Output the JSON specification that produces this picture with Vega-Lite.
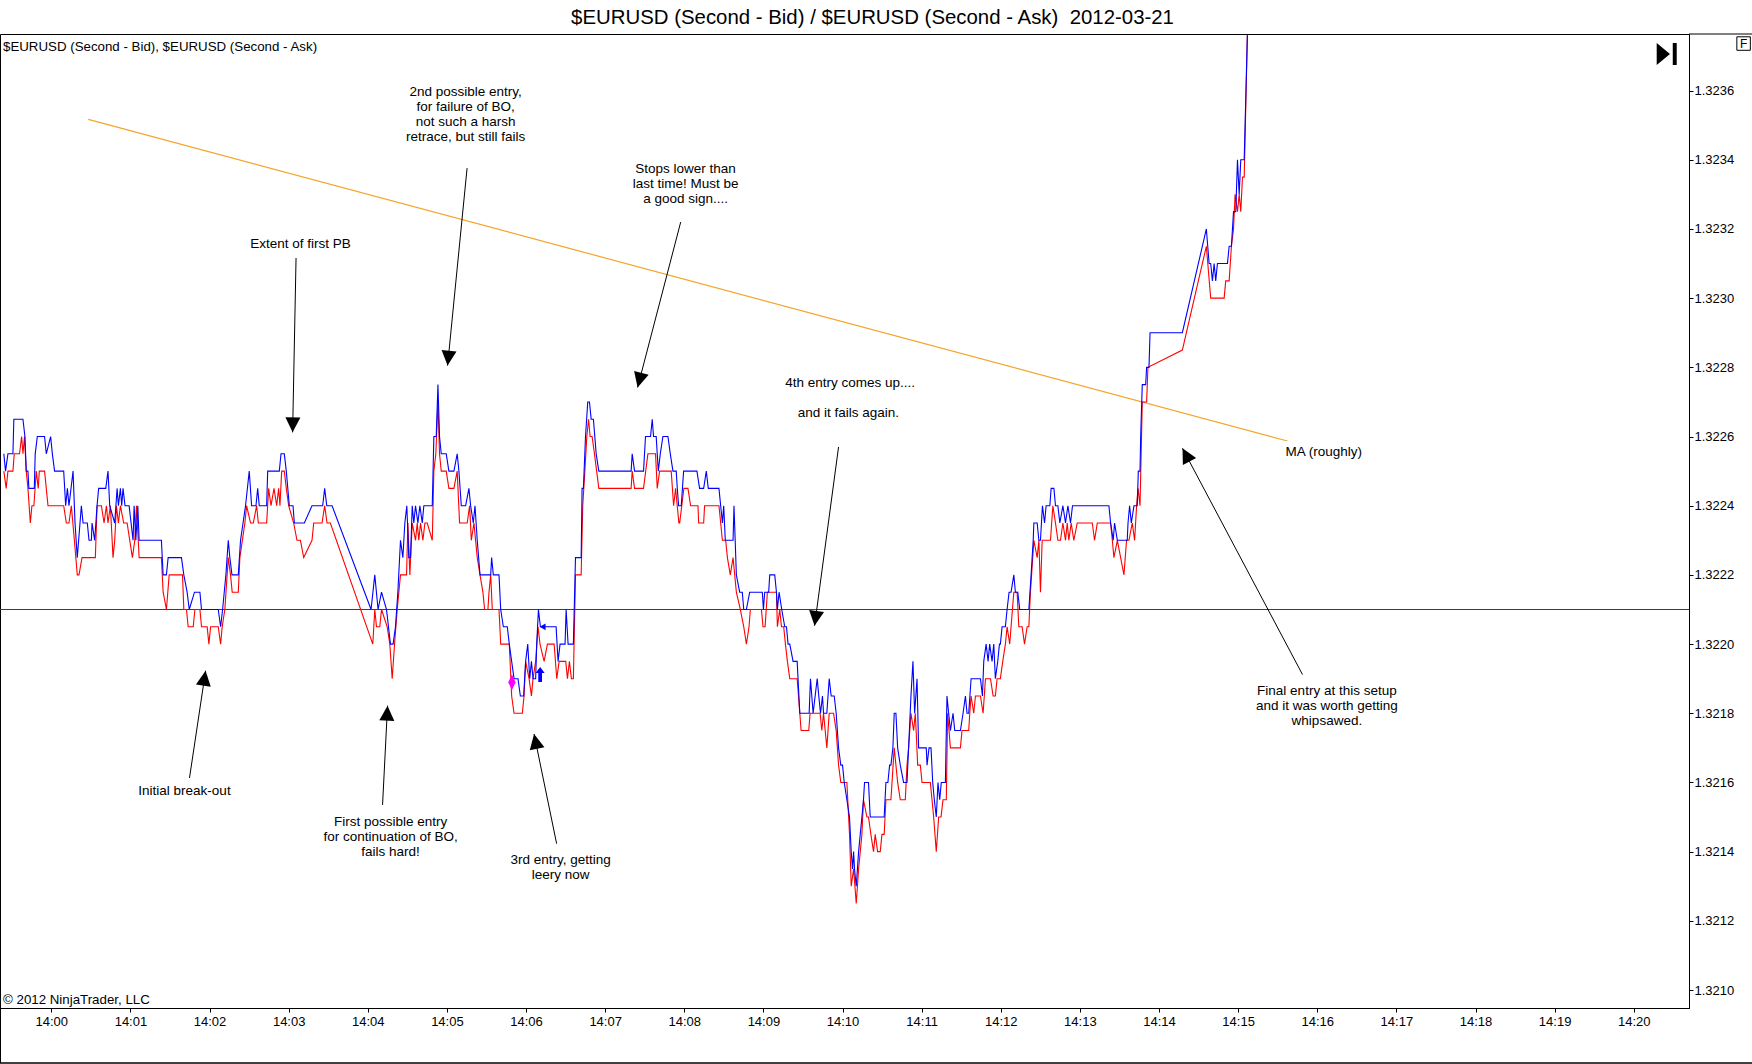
{
  "$schema": "https://vega.github.io/schema/vega-lite/v6.json",
  "width": 1689,
  "height": 974,
  "autosize": {"type": "none"},
  "padding": {"left": 0, "top": 34, "right": 63, "bottom": 56},
  "background": "white",
  "title": {
    "text": "$EURUSD (Second - Bid) / $EURUSD (Second - Ask)\u00a0 2012-03-21",
    "font": "Liberation Sans",
    "fontSize": 20.4,
    "fontWeight": "normal",
    "color": "black",
    "anchor": "middle",
    "frame": "group",
    "baseline": "alphabetic",
    "offset": 10,
    "dx": 28,
    "dy": 21
  },
  "config": {
    "font": "Liberation Sans",
    "view": {"stroke": "black", "strokeWidth": 1},
    "axis": {
      "title": null,
      "labelFont": "Liberation Sans",
      "labelFontSize": 13,
      "labelColor": "black",
      "gridColor": "#d0d0d0",
      "gridWidth": 1,
      "domainColor": "black",
      "tickColor": "black",
      "tickSize": 4,
      "labelOverlap": false,
      "labelFlush": false
    }
  },
  "datasets": {
    "quotes": [
      {"side": "Bid", "t": -36.0, "price": 1.32250}, {"side": "Bid", "t": -34.2, "price": 1.32245}, {"side": "Bid", "t": -32.9, "price": 1.32250},
      {"side": "Bid", "t": -29.1, "price": 1.32250}, {"side": "Bid", "t": -28.1, "price": 1.32255}, {"side": "Bid", "t": -24.1, "price": 1.32255},
      {"side": "Bid", "t": -22.5, "price": 1.32260}, {"side": "Bid", "t": -21.5, "price": 1.32255}, {"side": "Bid", "t": -20.3, "price": 1.32260},
      {"side": "Bid", "t": -19.0, "price": 1.32250}, {"side": "Bid", "t": -17.7, "price": 1.32245}, {"side": "Bid", "t": -15.9, "price": 1.32235},
      {"side": "Bid", "t": -14.7, "price": 1.32240}, {"side": "Bid", "t": -13.2, "price": 1.32240}, {"side": "Bid", "t": -11.4, "price": 1.32250},
      {"side": "Bid", "t": -9.9, "price": 1.32245}, {"side": "Bid", "t": -9.1, "price": 1.32250}, {"side": "Bid", "t": -5.1, "price": 1.32250},
      {"side": "Bid", "t": -2.5, "price": 1.32240}, {"side": "Bid", "t": 9.4, "price": 1.32240}, {"side": "Bid", "t": 11.4, "price": 1.32235},
      {"side": "Bid", "t": 13.4, "price": 1.32235}, {"side": "Bid", "t": 15.2, "price": 1.32240}, {"side": "Bid", "t": 17.5, "price": 1.32230},
      {"side": "Bid", "t": 19.7, "price": 1.32220}, {"side": "Bid", "t": 21.0, "price": 1.32220}, {"side": "Bid", "t": 23.3, "price": 1.32225},
      {"side": "Bid", "t": 33.4, "price": 1.32225}, {"side": "Bid", "t": 34.7, "price": 1.32240}, {"side": "Bid", "t": 38.0, "price": 1.32240},
      {"side": "Bid", "t": 40.0, "price": 1.32235}, {"side": "Bid", "t": 41.8, "price": 1.32240}, {"side": "Bid", "t": 43.0, "price": 1.32235},
      {"side": "Bid", "t": 44.8, "price": 1.32240}, {"side": "Bid", "t": 46.8, "price": 1.32225}, {"side": "Bid", "t": 48.1, "price": 1.32230},
      {"side": "Bid", "t": 49.4, "price": 1.32240}, {"side": "Bid", "t": 50.9, "price": 1.32235}, {"side": "Bid", "t": 52.4, "price": 1.32240},
      {"side": "Bid", "t": 54.9, "price": 1.32235}, {"side": "Bid", "t": 57.5, "price": 1.32235}, {"side": "Bid", "t": 59.5, "price": 1.32230},
      {"side": "Bid", "t": 61.5, "price": 1.32225}, {"side": "Bid", "t": 63.3, "price": 1.32230}, {"side": "Bid", "t": 64.6, "price": 1.32240},
      {"side": "Bid", "t": 66.6, "price": 1.32225}, {"side": "Bid", "t": 83.5, "price": 1.32225}, {"side": "Bid", "t": 84.8, "price": 1.32215},
      {"side": "Bid", "t": 87.3, "price": 1.32210}, {"side": "Bid", "t": 89.4, "price": 1.32220}, {"side": "Bid", "t": 99.5, "price": 1.32220},
      {"side": "Bid", "t": 100.5, "price": 1.32210}, {"side": "Bid", "t": 102.5, "price": 1.32210}, {"side": "Bid", "t": 103.8, "price": 1.32205},
      {"side": "Bid", "t": 107.6, "price": 1.32205}, {"side": "Bid", "t": 108.9, "price": 1.32210}, {"side": "Bid", "t": 112.7, "price": 1.32210},
      {"side": "Bid", "t": 113.9, "price": 1.32205}, {"side": "Bid", "t": 118.2, "price": 1.32205}, {"side": "Bid", "t": 119.5, "price": 1.32200},
      {"side": "Bid", "t": 120.8, "price": 1.32205}, {"side": "Bid", "t": 126.6, "price": 1.32205}, {"side": "Bid", "t": 128.4, "price": 1.32200},
      {"side": "Bid", "t": 129.6, "price": 1.32205}, {"side": "Bid", "t": 131.6, "price": 1.32210}, {"side": "Bid", "t": 134.2, "price": 1.32225},
      {"side": "Bid", "t": 135.9, "price": 1.32220}, {"side": "Bid", "t": 137.2, "price": 1.32215}, {"side": "Bid", "t": 141.8, "price": 1.32215},
      {"side": "Bid", "t": 143.0, "price": 1.32225}, {"side": "Bid", "t": 146.8, "price": 1.32235}, {"side": "Bid", "t": 148.1, "price": 1.32240},
      {"side": "Bid", "t": 151.1, "price": 1.32235}, {"side": "Bid", "t": 153.2, "price": 1.32235}, {"side": "Bid", "t": 155.7, "price": 1.32240},
      {"side": "Bid", "t": 157.0, "price": 1.32235}, {"side": "Bid", "t": 163.3, "price": 1.32235}, {"side": "Bid", "t": 164.8, "price": 1.32245},
      {"side": "Bid", "t": 166.6, "price": 1.32240}, {"side": "Bid", "t": 168.9, "price": 1.32245}, {"side": "Bid", "t": 170.9, "price": 1.32240},
      {"side": "Bid", "t": 172.4, "price": 1.32245}, {"side": "Bid", "t": 173.4, "price": 1.32240}, {"side": "Bid", "t": 174.7, "price": 1.32250},
      {"side": "Bid", "t": 176.7, "price": 1.32250}, {"side": "Bid", "t": 178.2, "price": 1.32245}, {"side": "Bid", "t": 180.0, "price": 1.32240},
      {"side": "Bid", "t": 183.8, "price": 1.32235}, {"side": "Bid", "t": 186.3, "price": 1.32230}, {"side": "Bid", "t": 188.9, "price": 1.32230},
      {"side": "Bid", "t": 191.4, "price": 1.32225}, {"side": "Bid", "t": 197.7, "price": 1.32230}, {"side": "Bid", "t": 199.0, "price": 1.32235},
      {"side": "Bid", "t": 205.3, "price": 1.32235}, {"side": "Bid", "t": 207.3, "price": 1.32240}, {"side": "Bid", "t": 209.1, "price": 1.32235},
      {"side": "Bid", "t": 211.6, "price": 1.32235}, {"side": "Bid", "t": 243.8, "price": 1.32200}, {"side": "Bid", "t": 245.3, "price": 1.32210},
      {"side": "Bid", "t": 246.6, "price": 1.32205}, {"side": "Bid", "t": 249.1, "price": 1.32205}, {"side": "Bid", "t": 250.4, "price": 1.32210},
      {"side": "Bid", "t": 254.7, "price": 1.32205}, {"side": "Bid", "t": 256.7, "price": 1.32200}, {"side": "Bid", "t": 258.5, "price": 1.32190},
      {"side": "Bid", "t": 260.3, "price": 1.32200}, {"side": "Bid", "t": 262.3, "price": 1.32210}, {"side": "Bid", "t": 264.8, "price": 1.32220},
      {"side": "Bid", "t": 269.4, "price": 1.32220}, {"side": "Bid", "t": 270.4, "price": 1.32235}, {"side": "Bid", "t": 271.9, "price": 1.32220},
      {"side": "Bid", "t": 273.7, "price": 1.32235}, {"side": "Bid", "t": 276.2, "price": 1.32230}, {"side": "Bid", "t": 277.5, "price": 1.32235},
      {"side": "Bid", "t": 278.7, "price": 1.32230}, {"side": "Bid", "t": 280.0, "price": 1.32235}, {"side": "Bid", "t": 281.8, "price": 1.32230},
      {"side": "Bid", "t": 283.3, "price": 1.32235}, {"side": "Bid", "t": 285.1, "price": 1.32235}, {"side": "Bid", "t": 288.9, "price": 1.32230},
      {"side": "Bid", "t": 290.1, "price": 1.32250}, {"side": "Bid", "t": 291.6, "price": 1.32255}, {"side": "Bid", "t": 293.2, "price": 1.32270},
      {"side": "Bid", "t": 294.4, "price": 1.32255}, {"side": "Bid", "t": 295.7, "price": 1.32250}, {"side": "Bid", "t": 299.5, "price": 1.32250},
      {"side": "Bid", "t": 301.5, "price": 1.32245}, {"side": "Bid", "t": 305.3, "price": 1.32245}, {"side": "Bid", "t": 307.8, "price": 1.32250},
      {"side": "Bid", "t": 309.6, "price": 1.32235}, {"side": "Bid", "t": 315.4, "price": 1.32235}, {"side": "Bid", "t": 317.2, "price": 1.32240},
      {"side": "Bid", "t": 318.5, "price": 1.32230}, {"side": "Bid", "t": 320.5, "price": 1.32235}, {"side": "Bid", "t": 323.0, "price": 1.32225},
      {"side": "Bid", "t": 325.1, "price": 1.32220}, {"side": "Bid", "t": 327.3, "price": 1.32215}, {"side": "Bid", "t": 328.6, "price": 1.32210},
      {"side": "Bid", "t": 331.1, "price": 1.32210}, {"side": "Bid", "t": 331.9, "price": 1.32215}, {"side": "Bid", "t": 333.2, "price": 1.32220},
      {"side": "Bid", "t": 334.4, "price": 1.32210}, {"side": "Bid", "t": 339.5, "price": 1.32210}, {"side": "Bid", "t": 340.8, "price": 1.32200},
      {"side": "Bid", "t": 347.3, "price": 1.32200}, {"side": "Bid", "t": 349.1, "price": 1.32185}, {"side": "Bid", "t": 350.9, "price": 1.32180},
      {"side": "Bid", "t": 357.2, "price": 1.32180}, {"side": "Bid", "t": 358.5, "price": 1.32185}, {"side": "Bid", "t": 359.7, "price": 1.32195},
      {"side": "Bid", "t": 362.3, "price": 1.32190}, {"side": "Bid", "t": 364.1, "price": 1.32185}, {"side": "Bid", "t": 365.3, "price": 1.32190},
      {"side": "Bid", "t": 367.3, "price": 1.32195}, {"side": "Bid", "t": 369.1, "price": 1.32205}, {"side": "Bid", "t": 370.6, "price": 1.32200},
      {"side": "Bid", "t": 373.7, "price": 1.32195}, {"side": "Bid", "t": 376.2, "price": 1.32200}, {"side": "Bid", "t": 381.3, "price": 1.32200},
      {"side": "Bid", "t": 383.3, "price": 1.32190}, {"side": "Bid", "t": 385.1, "price": 1.32195}, {"side": "Bid", "t": 390.1, "price": 1.32195},
      {"side": "Bid", "t": 391.4, "price": 1.32190}, {"side": "Bid", "t": 392.9, "price": 1.32195}, {"side": "Bid", "t": 394.4, "price": 1.32190},
      {"side": "Bid", "t": 395.9, "price": 1.32190}, {"side": "Bid", "t": 397.5, "price": 1.32220}, {"side": "Bid", "t": 401.8, "price": 1.32220},
      {"side": "Bid", "t": 403.0, "price": 1.32240}, {"side": "Bid", "t": 404.6, "price": 1.32250}, {"side": "Bid", "t": 406.1, "price": 1.32260},
      {"side": "Bid", "t": 407.4, "price": 1.32265}, {"side": "Bid", "t": 408.6, "price": 1.32260}, {"side": "Bid", "t": 410.1, "price": 1.32260},
      {"side": "Bid", "t": 411.9, "price": 1.32255}, {"side": "Bid", "t": 415.2, "price": 1.32245}, {"side": "Bid", "t": 439.7, "price": 1.32245},
      {"side": "Bid", "t": 440.5, "price": 1.32250}, {"side": "Bid", "t": 442.3, "price": 1.32245}, {"side": "Bid", "t": 449.1, "price": 1.32245},
      {"side": "Bid", "t": 452.4, "price": 1.32255}, {"side": "Bid", "t": 458.2, "price": 1.32255}, {"side": "Bid", "t": 459.5, "price": 1.32245},
      {"side": "Bid", "t": 461.3, "price": 1.32250}, {"side": "Bid", "t": 470.1, "price": 1.32250}, {"side": "Bid", "t": 471.9, "price": 1.32240},
      {"side": "Bid", "t": 473.4, "price": 1.32245}, {"side": "Bid", "t": 475.9, "price": 1.32235}, {"side": "Bid", "t": 476.5, "price": 1.32235},
      {"side": "Bid", "t": 479.7, "price": 1.32245}, {"side": "Bid", "t": 482.8, "price": 1.32245}, {"side": "Bid", "t": 484.8, "price": 1.32240},
      {"side": "Bid", "t": 490.4, "price": 1.32240}, {"side": "Bid", "t": 490.9, "price": 1.32235}, {"side": "Bid", "t": 494.7, "price": 1.32235},
      {"side": "Bid", "t": 495.4, "price": 1.32240}, {"side": "Bid", "t": 506.3, "price": 1.32240}, {"side": "Bid", "t": 508.9, "price": 1.32230},
      {"side": "Bid", "t": 511.4, "price": 1.32230}, {"side": "Bid", "t": 512.7, "price": 1.32225}, {"side": "Bid", "t": 514.9, "price": 1.32220},
      {"side": "Bid", "t": 517.0, "price": 1.32225}, {"side": "Bid", "t": 519.5, "price": 1.32215}, {"side": "Bid", "t": 522.5, "price": 1.32210},
      {"side": "Bid", "t": 525.1, "price": 1.32205}, {"side": "Bid", "t": 527.1, "price": 1.32200}, {"side": "Bid", "t": 529.1, "price": 1.32205},
      {"side": "Bid", "t": 530.1, "price": 1.32210}, {"side": "Bid", "t": 538.5, "price": 1.32210}, {"side": "Bid", "t": 539.7, "price": 1.32205},
      {"side": "Bid", "t": 541.3, "price": 1.32205}, {"side": "Bid", "t": 543.0, "price": 1.32215}, {"side": "Bid", "t": 549.9, "price": 1.32215},
      {"side": "Bid", "t": 550.6, "price": 1.32205}, {"side": "Bid", "t": 552.4, "price": 1.32210}, {"side": "Bid", "t": 553.7, "price": 1.32205},
      {"side": "Bid", "t": 555.4, "price": 1.32205}, {"side": "Bid", "t": 556.7, "price": 1.32200}, {"side": "Bid", "t": 558.2, "price": 1.32195},
      {"side": "Bid", "t": 560.0, "price": 1.32190}, {"side": "Bid", "t": 565.6, "price": 1.32190}, {"side": "Bid", "t": 567.6, "price": 1.32180},
      {"side": "Bid", "t": 568.6, "price": 1.32175}, {"side": "Bid", "t": 574.4, "price": 1.32175}, {"side": "Bid", "t": 575.4, "price": 1.32180},
      {"side": "Bid", "t": 583.0, "price": 1.32180}, {"side": "Bid", "t": 584.3, "price": 1.32175}, {"side": "Bid", "t": 585.6, "price": 1.32180},
      {"side": "Bid", "t": 588.1, "price": 1.32170}, {"side": "Bid", "t": 589.9, "price": 1.32180}, {"side": "Bid", "t": 593.2, "price": 1.32180},
      {"side": "Bid", "t": 595.2, "price": 1.32175}, {"side": "Bid", "t": 597.0, "price": 1.32165}, {"side": "Bid", "t": 598.7, "price": 1.32160},
      {"side": "Bid", "t": 603.3, "price": 1.32160}, {"side": "Bid", "t": 605.3, "price": 1.32145}, {"side": "Bid", "t": 606.6, "price": 1.32130},
      {"side": "Bid", "t": 608.4, "price": 1.32135}, {"side": "Bid", "t": 610.4, "price": 1.32125}, {"side": "Bid", "t": 612.2, "price": 1.32135},
      {"side": "Bid", "t": 614.7, "price": 1.32145}, {"side": "Bid", "t": 615.9, "price": 1.32155}, {"side": "Bid", "t": 618.5, "price": 1.32150},
      {"side": "Bid", "t": 619.7, "price": 1.32150}, {"side": "Bid", "t": 621.5, "price": 1.32145}, {"side": "Bid", "t": 623.5, "price": 1.32140},
      {"side": "Bid", "t": 624.8, "price": 1.32145}, {"side": "Bid", "t": 626.6, "price": 1.32140}, {"side": "Bid", "t": 628.6, "price": 1.32140},
      {"side": "Bid", "t": 629.9, "price": 1.32145}, {"side": "Bid", "t": 631.6, "price": 1.32145}, {"side": "Bid", "t": 632.9, "price": 1.32155},
      {"side": "Bid", "t": 636.7, "price": 1.32155}, {"side": "Bid", "t": 639.2, "price": 1.32170}, {"side": "Bid", "t": 641.8, "price": 1.32160},
      {"side": "Bid", "t": 643.8, "price": 1.32155}, {"side": "Bid", "t": 647.6, "price": 1.32155}, {"side": "Bid", "t": 648.9, "price": 1.32165},
      {"side": "Bid", "t": 650.1, "price": 1.32170}, {"side": "Bid", "t": 651.9, "price": 1.32180}, {"side": "Bid", "t": 653.9, "price": 1.32175},
      {"side": "Bid", "t": 655.2, "price": 1.32180}, {"side": "Bid", "t": 657.0, "price": 1.32165}, {"side": "Bid", "t": 659.0, "price": 1.32165},
      {"side": "Bid", "t": 660.3, "price": 1.32160}, {"side": "Bid", "t": 666.6, "price": 1.32160}, {"side": "Bid", "t": 669.1, "price": 1.32150},
      {"side": "Bid", "t": 671.1, "price": 1.32140}, {"side": "Bid", "t": 672.9, "price": 1.32150}, {"side": "Bid", "t": 674.7, "price": 1.32150},
      {"side": "Bid", "t": 676.2, "price": 1.32155}, {"side": "Bid", "t": 678.7, "price": 1.32155}, {"side": "Bid", "t": 679.7, "price": 1.32180},
      {"side": "Bid", "t": 681.8, "price": 1.32170}, {"side": "Bid", "t": 689.4, "price": 1.32170}, {"side": "Bid", "t": 690.6, "price": 1.32175},
      {"side": "Bid", "t": 695.7, "price": 1.32175}, {"side": "Bid", "t": 696.5, "price": 1.32180}, {"side": "Bid", "t": 697.5, "price": 1.32185},
      {"side": "Bid", "t": 699.5, "price": 1.32180}, {"side": "Bid", "t": 700.8, "price": 1.32185}, {"side": "Bid", "t": 704.6, "price": 1.32185},
      {"side": "Bid", "t": 706.6, "price": 1.32180}, {"side": "Bid", "t": 708.4, "price": 1.32190}, {"side": "Bid", "t": 712.2, "price": 1.32190},
      {"side": "Bid", "t": 714.2, "price": 1.32185}, {"side": "Bid", "t": 715.9, "price": 1.32185}, {"side": "Bid", "t": 717.2, "price": 1.32190},
      {"side": "Bid", "t": 719.7, "price": 1.32190}, {"side": "Bid", "t": 721.5, "price": 1.32195}, {"side": "Bid", "t": 723.5, "price": 1.32200},
      {"side": "Bid", "t": 724.8, "price": 1.32205}, {"side": "Bid", "t": 726.8, "price": 1.32200}, {"side": "Bid", "t": 727.8, "price": 1.32205},
      {"side": "Bid", "t": 729.9, "price": 1.32215}, {"side": "Bid", "t": 732.4, "price": 1.32215}, {"side": "Bid", "t": 733.7, "price": 1.32205},
      {"side": "Bid", "t": 736.2, "price": 1.32205}, {"side": "Bid", "t": 738.0, "price": 1.32200}, {"side": "Bid", "t": 740.0, "price": 1.32205},
      {"side": "Bid", "t": 741.3, "price": 1.32205}, {"side": "Bid", "t": 742.5, "price": 1.32215}, {"side": "Bid", "t": 745.1, "price": 1.32230},
      {"side": "Bid", "t": 747.6, "price": 1.32225}, {"side": "Bid", "t": 748.9, "price": 1.32230}, {"side": "Bid", "t": 750.1, "price": 1.32215},
      {"side": "Bid", "t": 751.4, "price": 1.32230}, {"side": "Bid", "t": 757.7, "price": 1.32230}, {"side": "Bid", "t": 759.5, "price": 1.32240},
      {"side": "Bid", "t": 761.5, "price": 1.32235}, {"side": "Bid", "t": 763.3, "price": 1.32230}, {"side": "Bid", "t": 765.3, "price": 1.32230},
      {"side": "Bid", "t": 767.1, "price": 1.32235}, {"side": "Bid", "t": 769.1, "price": 1.32230}, {"side": "Bid", "t": 770.4, "price": 1.32235},
      {"side": "Bid", "t": 771.6, "price": 1.32230}, {"side": "Bid", "t": 773.4, "price": 1.32235}, {"side": "Bid", "t": 775.4, "price": 1.32230},
      {"side": "Bid", "t": 778.0, "price": 1.32235}, {"side": "Bid", "t": 789.4, "price": 1.32235}, {"side": "Bid", "t": 791.1, "price": 1.32230},
      {"side": "Bid", "t": 793.2, "price": 1.32235}, {"side": "Bid", "t": 803.3, "price": 1.32235}, {"side": "Bid", "t": 804.6, "price": 1.32230},
      {"side": "Bid", "t": 805.8, "price": 1.32225}, {"side": "Bid", "t": 808.4, "price": 1.32230}, {"side": "Bid", "t": 810.9, "price": 1.32225},
      {"side": "Bid", "t": 813.4, "price": 1.32220}, {"side": "Bid", "t": 815.4, "price": 1.32230}, {"side": "Bid", "t": 817.2, "price": 1.32230},
      {"side": "Bid", "t": 819.7, "price": 1.32235}, {"side": "Bid", "t": 821.5, "price": 1.32230}, {"side": "Bid", "t": 823.0, "price": 1.32240},
      {"side": "Bid", "t": 824.1, "price": 1.32245}, {"side": "Bid", "t": 825.6, "price": 1.32240}, {"side": "Bid", "t": 827.3, "price": 1.32270},
      {"side": "Bid", "t": 830.6, "price": 1.32270}, {"side": "Bid", "t": 831.6, "price": 1.32280}, {"side": "Bid", "t": 857.7, "price": 1.32285},
      {"side": "Bid", "t": 875.9, "price": 1.32315}, {"side": "Bid", "t": 879.2, "price": 1.32300}, {"side": "Bid", "t": 889.4, "price": 1.32300},
      {"side": "Bid", "t": 890.6, "price": 1.32305}, {"side": "Bid", "t": 893.2, "price": 1.32305}, {"side": "Bid", "t": 894.9, "price": 1.32315},
      {"side": "Bid", "t": 896.5, "price": 1.32320}, {"side": "Bid", "t": 897.7, "price": 1.32330}, {"side": "Bid", "t": 899.5, "price": 1.32325},
      {"side": "Bid", "t": 900.8, "price": 1.32330}, {"side": "Bid", "t": 902.0, "price": 1.32325}, {"side": "Bid", "t": 903.3, "price": 1.32335},
      {"side": "Bid", "t": 904.6, "price": 1.32335}, {"side": "Bid", "t": 907.0, "price": 1.32376},

      {"side": "Ask", "t": -36.0, "price": 1.32255}, {"side": "Ask", "t": -34.7, "price": 1.32250}, {"side": "Ask", "t": -32.9, "price": 1.32255},
      {"side": "Ask", "t": -29.1, "price": 1.32255}, {"side": "Ask", "t": -28.4, "price": 1.32265}, {"side": "Ask", "t": -21.5, "price": 1.32265},
      {"side": "Ask", "t": -20.0, "price": 1.32260}, {"side": "Ask", "t": -19.0, "price": 1.32250}, {"side": "Ask", "t": -17.7, "price": 1.32250},
      {"side": "Ask", "t": -17.0, "price": 1.32245}, {"side": "Ask", "t": -12.9, "price": 1.32245}, {"side": "Ask", "t": -12.2, "price": 1.32255},
      {"side": "Ask", "t": -10.6, "price": 1.32260}, {"side": "Ask", "t": -5.1, "price": 1.32260}, {"side": "Ask", "t": -3.8, "price": 1.32255},
      {"side": "Ask", "t": -0.5, "price": 1.32260}, {"side": "Ask", "t": 0.8, "price": 1.32255}, {"side": "Ask", "t": 2.5, "price": 1.32250},
      {"side": "Ask", "t": 9.4, "price": 1.32250}, {"side": "Ask", "t": 10.9, "price": 1.32240}, {"side": "Ask", "t": 12.2, "price": 1.32245},
      {"side": "Ask", "t": 13.4, "price": 1.32240}, {"side": "Ask", "t": 16.5, "price": 1.32250}, {"side": "Ask", "t": 18.0, "price": 1.32235},
      {"side": "Ask", "t": 19.7, "price": 1.32225}, {"side": "Ask", "t": 22.8, "price": 1.32240}, {"side": "Ask", "t": 24.1, "price": 1.32235},
      {"side": "Ask", "t": 27.3, "price": 1.32235}, {"side": "Ask", "t": 28.6, "price": 1.32230}, {"side": "Ask", "t": 30.4, "price": 1.32230},
      {"side": "Ask", "t": 30.9, "price": 1.32235}, {"side": "Ask", "t": 32.9, "price": 1.32230}, {"side": "Ask", "t": 34.7, "price": 1.32240},
      {"side": "Ask", "t": 35.9, "price": 1.32245}, {"side": "Ask", "t": 41.3, "price": 1.32245}, {"side": "Ask", "t": 43.0, "price": 1.32250},
      {"side": "Ask", "t": 44.3, "price": 1.32240}, {"side": "Ask", "t": 48.1, "price": 1.32235}, {"side": "Ask", "t": 49.9, "price": 1.32245},
      {"side": "Ask", "t": 50.9, "price": 1.32240}, {"side": "Ask", "t": 52.4, "price": 1.32245}, {"side": "Ask", "t": 53.4, "price": 1.32240},
      {"side": "Ask", "t": 54.4, "price": 1.32245}, {"side": "Ask", "t": 55.9, "price": 1.32240}, {"side": "Ask", "t": 59.0, "price": 1.32240},
      {"side": "Ask", "t": 62.0, "price": 1.32230}, {"side": "Ask", "t": 62.8, "price": 1.32240}, {"side": "Ask", "t": 64.1, "price": 1.32230},
      {"side": "Ask", "t": 65.6, "price": 1.32240}, {"side": "Ask", "t": 66.6, "price": 1.32230}, {"side": "Ask", "t": 83.5, "price": 1.32230},
      {"side": "Ask", "t": 84.8, "price": 1.32220}, {"side": "Ask", "t": 87.3, "price": 1.32220}, {"side": "Ask", "t": 88.6, "price": 1.32225},
      {"side": "Ask", "t": 98.7, "price": 1.32225}, {"side": "Ask", "t": 100.5, "price": 1.32220}, {"side": "Ask", "t": 103.0, "price": 1.32215},
      {"side": "Ask", "t": 104.6, "price": 1.32210}, {"side": "Ask", "t": 108.6, "price": 1.32215}, {"side": "Ask", "t": 112.7, "price": 1.32215},
      {"side": "Ask", "t": 113.9, "price": 1.32210}, {"side": "Ask", "t": 126.6, "price": 1.32210}, {"side": "Ask", "t": 128.4, "price": 1.32205},
      {"side": "Ask", "t": 129.9, "price": 1.32210}, {"side": "Ask", "t": 132.4, "price": 1.32220}, {"side": "Ask", "t": 134.2, "price": 1.32230},
      {"side": "Ask", "t": 135.4, "price": 1.32225}, {"side": "Ask", "t": 137.0, "price": 1.32220}, {"side": "Ask", "t": 141.8, "price": 1.32220},
      {"side": "Ask", "t": 143.5, "price": 1.32230}, {"side": "Ask", "t": 147.3, "price": 1.32240}, {"side": "Ask", "t": 150.1, "price": 1.32250},
      {"side": "Ask", "t": 151.9, "price": 1.32240}, {"side": "Ask", "t": 155.2, "price": 1.32240}, {"side": "Ask", "t": 156.5, "price": 1.32245},
      {"side": "Ask", "t": 157.7, "price": 1.32240}, {"side": "Ask", "t": 163.3, "price": 1.32240}, {"side": "Ask", "t": 164.1, "price": 1.32250},
      {"side": "Ask", "t": 172.9, "price": 1.32250}, {"side": "Ask", "t": 174.2, "price": 1.32255}, {"side": "Ask", "t": 176.7, "price": 1.32255},
      {"side": "Ask", "t": 178.2, "price": 1.32250}, {"side": "Ask", "t": 180.5, "price": 1.32240}, {"side": "Ask", "t": 183.3, "price": 1.32240},
      {"side": "Ask", "t": 184.3, "price": 1.32235}, {"side": "Ask", "t": 191.9, "price": 1.32235}, {"side": "Ask", "t": 197.7, "price": 1.32240},
      {"side": "Ask", "t": 205.8, "price": 1.32240}, {"side": "Ask", "t": 207.3, "price": 1.32245}, {"side": "Ask", "t": 208.9, "price": 1.32240},
      {"side": "Ask", "t": 212.9, "price": 1.32240}, {"side": "Ask", "t": 242.5, "price": 1.32210}, {"side": "Ask", "t": 245.3, "price": 1.32220},
      {"side": "Ask", "t": 247.8, "price": 1.32210}, {"side": "Ask", "t": 250.4, "price": 1.32215}, {"side": "Ask", "t": 254.2, "price": 1.32210},
      {"side": "Ask", "t": 257.2, "price": 1.32200}, {"side": "Ask", "t": 259.2, "price": 1.32200}, {"side": "Ask", "t": 261.0, "price": 1.32205},
      {"side": "Ask", "t": 262.8, "price": 1.32215}, {"side": "Ask", "t": 264.8, "price": 1.32230}, {"side": "Ask", "t": 266.6, "price": 1.32225},
      {"side": "Ask", "t": 268.1, "price": 1.32235}, {"side": "Ask", "t": 269.6, "price": 1.32240}, {"side": "Ask", "t": 271.1, "price": 1.32225},
      {"side": "Ask", "t": 272.4, "price": 1.32225}, {"side": "Ask", "t": 273.7, "price": 1.32240}, {"side": "Ask", "t": 274.9, "price": 1.32235},
      {"side": "Ask", "t": 276.2, "price": 1.32240}, {"side": "Ask", "t": 278.0, "price": 1.32235}, {"side": "Ask", "t": 279.5, "price": 1.32240},
      {"side": "Ask", "t": 281.3, "price": 1.32235}, {"side": "Ask", "t": 282.5, "price": 1.32240}, {"side": "Ask", "t": 288.9, "price": 1.32240},
      {"side": "Ask", "t": 290.1, "price": 1.32260}, {"side": "Ask", "t": 291.9, "price": 1.32260}, {"side": "Ask", "t": 293.2, "price": 1.32275},
      {"side": "Ask", "t": 294.4, "price": 1.32260}, {"side": "Ask", "t": 295.7, "price": 1.32255}, {"side": "Ask", "t": 299.5, "price": 1.32255},
      {"side": "Ask", "t": 301.5, "price": 1.32250}, {"side": "Ask", "t": 305.3, "price": 1.32250}, {"side": "Ask", "t": 307.8, "price": 1.32255},
      {"side": "Ask", "t": 309.1, "price": 1.32250}, {"side": "Ask", "t": 310.9, "price": 1.32240}, {"side": "Ask", "t": 314.2, "price": 1.32240},
      {"side": "Ask", "t": 316.7, "price": 1.32245}, {"side": "Ask", "t": 318.0, "price": 1.32240}, {"side": "Ask", "t": 320.0, "price": 1.32235},
      {"side": "Ask", "t": 321.3, "price": 1.32240}, {"side": "Ask", "t": 323.0, "price": 1.32230}, {"side": "Ask", "t": 325.1, "price": 1.32220},
      {"side": "Ask", "t": 333.2, "price": 1.32220}, {"side": "Ask", "t": 333.9, "price": 1.32225}, {"side": "Ask", "t": 335.2, "price": 1.32220},
      {"side": "Ask", "t": 339.5, "price": 1.32220}, {"side": "Ask", "t": 340.8, "price": 1.32210}, {"side": "Ask", "t": 342.8, "price": 1.32205},
      {"side": "Ask", "t": 345.8, "price": 1.32205}, {"side": "Ask", "t": 347.3, "price": 1.32200}, {"side": "Ask", "t": 349.1, "price": 1.32195},
      {"side": "Ask", "t": 350.9, "price": 1.32190}, {"side": "Ask", "t": 353.9, "price": 1.32190}, {"side": "Ask", "t": 355.7, "price": 1.32185},
      {"side": "Ask", "t": 358.2, "price": 1.32185}, {"side": "Ask", "t": 359.7, "price": 1.32195}, {"side": "Ask", "t": 361.3, "price": 1.32200},
      {"side": "Ask", "t": 362.8, "price": 1.32190}, {"side": "Ask", "t": 364.1, "price": 1.32195}, {"side": "Ask", "t": 365.3, "price": 1.32190},
      {"side": "Ask", "t": 367.3, "price": 1.32190}, {"side": "Ask", "t": 368.1, "price": 1.32200}, {"side": "Ask", "t": 369.4, "price": 1.32210},
      {"side": "Ask", "t": 370.9, "price": 1.32205}, {"side": "Ask", "t": 382.8, "price": 1.32205}, {"side": "Ask", "t": 384.3, "price": 1.32195},
      {"side": "Ask", "t": 385.8, "price": 1.32200}, {"side": "Ask", "t": 389.6, "price": 1.32200}, {"side": "Ask", "t": 390.4, "price": 1.32210},
      {"side": "Ask", "t": 391.9, "price": 1.32200}, {"side": "Ask", "t": 395.9, "price": 1.32200}, {"side": "Ask", "t": 397.5, "price": 1.32225},
      {"side": "Ask", "t": 401.8, "price": 1.32225}, {"side": "Ask", "t": 402.5, "price": 1.32245}, {"side": "Ask", "t": 403.5, "price": 1.32245},
      {"side": "Ask", "t": 405.1, "price": 1.32260}, {"side": "Ask", "t": 406.8, "price": 1.32270}, {"side": "Ask", "t": 408.1, "price": 1.32270},
      {"side": "Ask", "t": 409.4, "price": 1.32265}, {"side": "Ask", "t": 411.1, "price": 1.32265}, {"side": "Ask", "t": 413.2, "price": 1.32255},
      {"side": "Ask", "t": 415.2, "price": 1.32250}, {"side": "Ask", "t": 439.7, "price": 1.32250}, {"side": "Ask", "t": 440.5, "price": 1.32255},
      {"side": "Ask", "t": 442.3, "price": 1.32250}, {"side": "Ask", "t": 449.1, "price": 1.32250}, {"side": "Ask", "t": 450.6, "price": 1.32260},
      {"side": "Ask", "t": 454.4, "price": 1.32260}, {"side": "Ask", "t": 455.7, "price": 1.32265}, {"side": "Ask", "t": 456.7, "price": 1.32260},
      {"side": "Ask", "t": 458.7, "price": 1.32260}, {"side": "Ask", "t": 460.3, "price": 1.32250}, {"side": "Ask", "t": 461.8, "price": 1.32255},
      {"side": "Ask", "t": 463.8, "price": 1.32260}, {"side": "Ask", "t": 467.6, "price": 1.32260}, {"side": "Ask", "t": 469.4, "price": 1.32255},
      {"side": "Ask", "t": 471.4, "price": 1.32250}, {"side": "Ask", "t": 473.9, "price": 1.32250}, {"side": "Ask", "t": 474.7, "price": 1.32245},
      {"side": "Ask", "t": 475.7, "price": 1.32240}, {"side": "Ask", "t": 477.7, "price": 1.32240}, {"side": "Ask", "t": 479.5, "price": 1.32250},
      {"side": "Ask", "t": 489.6, "price": 1.32250}, {"side": "Ask", "t": 491.6, "price": 1.32245}, {"side": "Ask", "t": 494.7, "price": 1.32245},
      {"side": "Ask", "t": 496.7, "price": 1.32250}, {"side": "Ask", "t": 498.2, "price": 1.32245}, {"side": "Ask", "t": 506.3, "price": 1.32245},
      {"side": "Ask", "t": 507.6, "price": 1.32240}, {"side": "Ask", "t": 508.9, "price": 1.32235}, {"side": "Ask", "t": 509.9, "price": 1.32240},
      {"side": "Ask", "t": 511.1, "price": 1.32230}, {"side": "Ask", "t": 517.0, "price": 1.32230}, {"side": "Ask", "t": 517.7, "price": 1.32240},
      {"side": "Ask", "t": 519.5, "price": 1.32220}, {"side": "Ask", "t": 522.0, "price": 1.32215}, {"side": "Ask", "t": 524.0, "price": 1.32215},
      {"side": "Ask", "t": 525.1, "price": 1.32210}, {"side": "Ask", "t": 527.1, "price": 1.32210}, {"side": "Ask", "t": 529.6, "price": 1.32215},
      {"side": "Ask", "t": 539.2, "price": 1.32215}, {"side": "Ask", "t": 540.0, "price": 1.32210}, {"side": "Ask", "t": 541.0, "price": 1.32215},
      {"side": "Ask", "t": 544.0, "price": 1.32215}, {"side": "Ask", "t": 544.8, "price": 1.32220}, {"side": "Ask", "t": 548.6, "price": 1.32220},
      {"side": "Ask", "t": 549.9, "price": 1.32215}, {"side": "Ask", "t": 550.6, "price": 1.32210}, {"side": "Ask", "t": 551.9, "price": 1.32215},
      {"side": "Ask", "t": 553.9, "price": 1.32210}, {"side": "Ask", "t": 556.2, "price": 1.32205}, {"side": "Ask", "t": 557.5, "price": 1.32205},
      {"side": "Ask", "t": 558.7, "price": 1.32200}, {"side": "Ask", "t": 560.0, "price": 1.32200}, {"side": "Ask", "t": 562.5, "price": 1.32195},
      {"side": "Ask", "t": 565.6, "price": 1.32195}, {"side": "Ask", "t": 567.6, "price": 1.32180}, {"side": "Ask", "t": 574.7, "price": 1.32180},
      {"side": "Ask", "t": 575.7, "price": 1.32190}, {"side": "Ask", "t": 577.7, "price": 1.32180}, {"side": "Ask", "t": 580.8, "price": 1.32190},
      {"side": "Ask", "t": 582.0, "price": 1.32185}, {"side": "Ask", "t": 583.3, "price": 1.32180}, {"side": "Ask", "t": 584.8, "price": 1.32185},
      {"side": "Ask", "t": 585.6, "price": 1.32180}, {"side": "Ask", "t": 588.1, "price": 1.32180}, {"side": "Ask", "t": 589.9, "price": 1.32190},
      {"side": "Ask", "t": 591.4, "price": 1.32185}, {"side": "Ask", "t": 593.7, "price": 1.32185}, {"side": "Ask", "t": 595.2, "price": 1.32180},
      {"side": "Ask", "t": 597.0, "price": 1.32170}, {"side": "Ask", "t": 598.7, "price": 1.32165}, {"side": "Ask", "t": 600.0, "price": 1.32165},
      {"side": "Ask", "t": 601.3, "price": 1.32160}, {"side": "Ask", "t": 603.3, "price": 1.32155}, {"side": "Ask", "t": 605.3, "price": 1.32150},
      {"side": "Ask", "t": 606.6, "price": 1.32140}, {"side": "Ask", "t": 607.6, "price": 1.32135}, {"side": "Ask", "t": 608.4, "price": 1.32140},
      {"side": "Ask", "t": 609.1, "price": 1.32135}, {"side": "Ask", "t": 610.4, "price": 1.32130}, {"side": "Ask", "t": 612.2, "price": 1.32140},
      {"side": "Ask", "t": 614.7, "price": 1.32150}, {"side": "Ask", "t": 615.9, "price": 1.32155}, {"side": "Ask", "t": 616.7, "price": 1.32160},
      {"side": "Ask", "t": 619.7, "price": 1.32160}, {"side": "Ask", "t": 621.0, "price": 1.32150}, {"side": "Ask", "t": 631.6, "price": 1.32150},
      {"side": "Ask", "t": 632.9, "price": 1.32160}, {"side": "Ask", "t": 634.4, "price": 1.32160}, {"side": "Ask", "t": 635.7, "price": 1.32165},
      {"side": "Ask", "t": 636.7, "price": 1.32165}, {"side": "Ask", "t": 638.2, "price": 1.32170}, {"side": "Ask", "t": 639.2, "price": 1.32180},
      {"side": "Ask", "t": 640.5, "price": 1.32180}, {"side": "Ask", "t": 641.8, "price": 1.32170}, {"side": "Ask", "t": 643.8, "price": 1.32165},
      {"side": "Ask", "t": 646.3, "price": 1.32160}, {"side": "Ask", "t": 648.9, "price": 1.32160}, {"side": "Ask", "t": 650.1, "price": 1.32170},
      {"side": "Ask", "t": 651.9, "price": 1.32185}, {"side": "Ask", "t": 653.4, "price": 1.32195}, {"side": "Ask", "t": 654.7, "price": 1.32180},
      {"side": "Ask", "t": 656.5, "price": 1.32190}, {"side": "Ask", "t": 657.7, "price": 1.32170}, {"side": "Ask", "t": 663.5, "price": 1.32170},
      {"side": "Ask", "t": 664.1, "price": 1.32165}, {"side": "Ask", "t": 665.6, "price": 1.32170}, {"side": "Ask", "t": 667.1, "price": 1.32170},
      {"side": "Ask", "t": 668.4, "price": 1.32160}, {"side": "Ask", "t": 669.6, "price": 1.32155}, {"side": "Ask", "t": 671.1, "price": 1.32150},
      {"side": "Ask", "t": 672.4, "price": 1.32160}, {"side": "Ask", "t": 673.7, "price": 1.32155}, {"side": "Ask", "t": 674.9, "price": 1.32160},
      {"side": "Ask", "t": 678.0, "price": 1.32160}, {"side": "Ask", "t": 679.2, "price": 1.32185}, {"side": "Ask", "t": 680.5, "price": 1.32180},
      {"side": "Ask", "t": 681.8, "price": 1.32175}, {"side": "Ask", "t": 683.8, "price": 1.32180}, {"side": "Ask", "t": 685.1, "price": 1.32175},
      {"side": "Ask", "t": 689.4, "price": 1.32175}, {"side": "Ask", "t": 691.4, "price": 1.32180}, {"side": "Ask", "t": 693.2, "price": 1.32185},
      {"side": "Ask", "t": 694.4, "price": 1.32180}, {"side": "Ask", "t": 695.7, "price": 1.32180}, {"side": "Ask", "t": 697.5, "price": 1.32190},
      {"side": "Ask", "t": 704.6, "price": 1.32190}, {"side": "Ask", "t": 706.1, "price": 1.32185}, {"side": "Ask", "t": 707.1, "price": 1.32195},
      {"side": "Ask", "t": 708.9, "price": 1.32200}, {"side": "Ask", "t": 710.4, "price": 1.32195}, {"side": "Ask", "t": 711.6, "price": 1.32200},
      {"side": "Ask", "t": 713.4, "price": 1.32195}, {"side": "Ask", "t": 714.7, "price": 1.32200}, {"side": "Ask", "t": 715.9, "price": 1.32190},
      {"side": "Ask", "t": 717.7, "price": 1.32195}, {"side": "Ask", "t": 719.0, "price": 1.32200}, {"side": "Ask", "t": 719.7, "price": 1.32200},
      {"side": "Ask", "t": 721.0, "price": 1.32205}, {"side": "Ask", "t": 723.5, "price": 1.32205}, {"side": "Ask", "t": 724.8, "price": 1.32210},
      {"side": "Ask", "t": 726.3, "price": 1.32215}, {"side": "Ask", "t": 727.8, "price": 1.32215}, {"side": "Ask", "t": 729.9, "price": 1.32220},
      {"side": "Ask", "t": 731.1, "price": 1.32215}, {"side": "Ask", "t": 732.9, "price": 1.32215}, {"side": "Ask", "t": 734.4, "price": 1.32210},
      {"side": "Ask", "t": 741.3, "price": 1.32210}, {"side": "Ask", "t": 743.0, "price": 1.32220}, {"side": "Ask", "t": 744.6, "price": 1.32230},
      {"side": "Ask", "t": 745.1, "price": 1.32235}, {"side": "Ask", "t": 747.6, "price": 1.32235}, {"side": "Ask", "t": 748.9, "price": 1.32230},
      {"side": "Ask", "t": 750.1, "price": 1.32230}, {"side": "Ask", "t": 751.6, "price": 1.32240}, {"side": "Ask", "t": 753.2, "price": 1.32235},
      {"side": "Ask", "t": 754.4, "price": 1.32240}, {"side": "Ask", "t": 757.2, "price": 1.32240}, {"side": "Ask", "t": 758.2, "price": 1.32245},
      {"side": "Ask", "t": 760.3, "price": 1.32245}, {"side": "Ask", "t": 761.5, "price": 1.32240}, {"side": "Ask", "t": 763.3, "price": 1.32240},
      {"side": "Ask", "t": 764.8, "price": 1.32235}, {"side": "Ask", "t": 767.1, "price": 1.32240}, {"side": "Ask", "t": 769.1, "price": 1.32235},
      {"side": "Ask", "t": 770.9, "price": 1.32240}, {"side": "Ask", "t": 772.9, "price": 1.32235}, {"side": "Ask", "t": 774.4, "price": 1.32240},
      {"side": "Ask", "t": 802.0, "price": 1.32240}, {"side": "Ask", "t": 803.3, "price": 1.32235}, {"side": "Ask", "t": 805.3, "price": 1.32230},
      {"side": "Ask", "t": 806.3, "price": 1.32235}, {"side": "Ask", "t": 808.4, "price": 1.32230}, {"side": "Ask", "t": 815.9, "price": 1.32230},
      {"side": "Ask", "t": 816.5, "price": 1.32235}, {"side": "Ask", "t": 817.7, "price": 1.32240}, {"side": "Ask", "t": 819.0, "price": 1.32235},
      {"side": "Ask", "t": 821.0, "price": 1.32240}, {"side": "Ask", "t": 823.5, "price": 1.32240}, {"side": "Ask", "t": 824.3, "price": 1.32250},
      {"side": "Ask", "t": 825.6, "price": 1.32250}, {"side": "Ask", "t": 826.1, "price": 1.32260}, {"side": "Ask", "t": 827.3, "price": 1.32275},
      {"side": "Ask", "t": 829.9, "price": 1.32275}, {"side": "Ask", "t": 830.6, "price": 1.32280}, {"side": "Ask", "t": 832.4, "price": 1.32280},
      {"side": "Ask", "t": 833.2, "price": 1.32290}, {"side": "Ask", "t": 857.7, "price": 1.32290}, {"side": "Ask", "t": 875.9, "price": 1.32320},
      {"side": "Ask", "t": 878.0, "price": 1.32310}, {"side": "Ask", "t": 879.2, "price": 1.32310}, {"side": "Ask", "t": 880.5, "price": 1.32305},
      {"side": "Ask", "t": 881.8, "price": 1.32310}, {"side": "Ask", "t": 883.0, "price": 1.32305}, {"side": "Ask", "t": 884.3, "price": 1.32310},
      {"side": "Ask", "t": 891.9, "price": 1.32310}, {"side": "Ask", "t": 893.2, "price": 1.32315}, {"side": "Ask", "t": 894.9, "price": 1.32315},
      {"side": "Ask", "t": 896.5, "price": 1.32325}, {"side": "Ask", "t": 898.2, "price": 1.32325}, {"side": "Ask", "t": 899.5, "price": 1.32340},
      {"side": "Ask", "t": 900.8, "price": 1.32330}, {"side": "Ask", "t": 902.0, "price": 1.32340}, {"side": "Ask", "t": 904.6, "price": 1.32340},
      {"side": "Ask", "t": 907.0, "price": 1.32376}
    ],
    "ma": [
      {"t": 28.0, "price": 1.323517},
      {"t": 937.4, "price": 1.322587}
    ],
    "level": [
      {"price": 1.3221}
    ],
    "notes": [
      {"note": ["Extent of first PB"], "t": 189.0, "price": 1.323157},
      {"note": ["2nd possible entry,", "for failure of BO,", "not such a harsh", "retrace, but still fails"], "t": 314.2, "price": 1.323596},
      {"note": ["Stops lower than", "last time! Must be", "a good sign...."], "t": 481.0, "price": 1.323373},
      {"note": ["4th entry comes up...."], "t": 605.7, "price": 1.322755},
      {"note": ["and it fails again."], "t": 604.5, "price": 1.322669},
      {"note": ["MA (roughly)"], "t": 965.0, "price": 1.322554},
      {"note": ["Initial break-out"], "t": 101.0, "price": 1.321574},
      {"note": ["First possible entry", "for continuation of BO,", "fails hard!"], "t": 257.3, "price": 1.321487},
      {"note": ["3rd entry, getting", "leery now"], "t": 386.2, "price": 1.321376},
      {"note": ["Final entry at this setup", "and it was worth getting", "whipsawed."], "t": 967.3, "price": 1.321863}
    ],
    "arrows": [
      {"t": 185.6, "price": 1.323116, "t2": 183.0, "price2": 1.322612},
      {"t": 315.3, "price": 1.323376, "t2": 300.5, "price2": 1.322805},
      {"t": 477.3, "price": 1.32322, "t2": 444.6, "price2": 1.322742},
      {"t": 597.0, "price": 1.32257, "t2": 578.8, "price2": 1.322053},
      {"t": 104.8, "price": 1.321613, "t2": 117.0, "price2": 1.321923},
      {"t": 251.2, "price": 1.321535, "t2": 255.0, "price2": 1.321822},
      {"t": 383.2, "price": 1.321423, "t2": 366.1, "price2": 1.32174},
      {"t": 948.8, "price": 1.321912, "t2": 857.8, "price2": 1.322566}
    ],
    "fills": [
      {"kind": "exit", "t": 349.3, "price": 1.32189},
      {"kind": "buy", "t": 370.7, "price": 1.321912},
      {"kind": "cover", "t": 372.6, "price": 1.32205}
    ]
  },
  "layer": [
    {
      "data": {"values": [{}]},
      "mark": {"type": "rule", "color": "black", "strokeWidth": 1.5, "clip": false},
      "encoding": {
        "x": {"datum": -38.9, "type": "quantitative"},
        "x2": {"datum": 1300},
        "y": {"datum": 1.3207888, "type": "quantitative"},
        "y2": {"datum": 1.3207888}
      }
    },
    {
      "data": {"values": [{}]},
      "mark": {"type": "rule", "color": "black", "strokeWidth": 1, "clip": false},
      "encoding": {
        "x": {"datum": 1241.9, "type": "quantitative"},
        "x2": {"datum": 1300},
        "y": {"datum": 1.3237636, "type": "quantitative"},
        "y2": {"datum": 1.3237636}
      }
    },
    {
      "data": {"values": [{}]},
      "mark": {"type": "rule", "color": "black", "strokeWidth": 2, "clip": false},
      "encoding": {
        "x": {"datum": -38.9, "type": "quantitative"},
        "y": {"datum": 1.320948, "type": "quantitative"},
        "y2": {"datum": 1.3207888}
      }
    },
    {
      "data": {"name": "level"},
      "mark": {"type": "rule", "color": "#006400", "strokeWidth": 1},
      "encoding": {
        "y": {"field": "price", "type": "quantitative"}
      }
    },
    {
      "data": {"name": "ma"},
      "mark": {"type": "line", "color": "#f3a52b", "strokeWidth": 1.2},
      "encoding": {
        "x": {"field": "t", "type": "quantitative"},
        "y": {"field": "price", "type": "quantitative"}
      }
    },
    {
      "data": {"name": "quotes"},
      "transform": [{"filter": "datum.side == 'Bid'"}],
      "mark": {"type": "line", "strokeWidth": 1.1, "clip": true},
      "encoding": {
        "x": {
          "field": "t",
          "type": "quantitative",
          "scale": {"domain": [-38.9, 1241.9], "nice": false, "zero": false},
          "axis": {
            "orient": "bottom",
            "title": null,
            "values": [0, 60, 120, 180, 240, 300, 360, 420, 480, 540, 600, 660, 720, 780, 840, 900, 960, 1020, 1080, 1140, 1200],
            "labelExpr": "'14:' + (datum.value < 600 ? '0' : '') + (datum.value / 60)",
            "labelPadding": 3
          }
        },
        "y": {
          "field": "price",
          "type": "quantitative",
          "scale": {"domain": [1.320948, 1.3237636], "nice": false, "zero": false},
          "axis": {
            "orient": "right",
            "title": null,
            "values": [1.321, 1.3212, 1.3214, 1.3216, 1.3218, 1.322, 1.3222, 1.3224, 1.3226, 1.3228, 1.323, 1.3232, 1.3234, 1.3236],
            "format": ".4f",
            "labelPadding": 1
          }
        },
        "color": {"field": "side", "type": "nominal", "scale": {"domain": ["Bid", "Ask"], "range": ["#ff0000", "#0000ff"]}, "legend": null}
      }
    },
    {
      "data": {"name": "quotes"},
      "transform": [{"filter": "datum.side == 'Ask'"}],
      "mark": {"type": "line", "strokeWidth": 1.1, "clip": true},
      "encoding": {
        "x": {"field": "t", "type": "quantitative", "scale": {"domain": [-38.9, 1241.9], "nice": false, "zero": false}},
        "y": {"field": "price", "type": "quantitative", "scale": {"domain": [1.320948, 1.3237636], "nice": false, "zero": false}},
        "color": {"field": "side", "type": "nominal", "scale": {"domain": ["Bid", "Ask"], "range": ["#ff0000", "#0000ff"]}, "legend": null}
      }
    },
    {
      "data": {"name": "fills"},
      "transform": [{"filter": "datum.kind == 'exit'"}],
      "mark": {"type": "point", "shape": "M0,-1L0.45,0L0,1L-0.45,0Z", "filled": true, "color": "#ff00ff", "opacity": 1, "size": 256},
      "encoding": {
        "x": {"field": "t", "type": "quantitative"},
        "y": {"field": "price", "type": "quantitative"}
      }
    },
    {
      "data": {"name": "fills"},
      "transform": [{"filter": "datum.kind == 'buy'"}],
      "mark": {"type": "point", "shape": "M0,-1L0.6,-0.2L0.25,-0.2L0.25,1L-0.25,1L-0.25,-0.2L-0.6,-0.2Z", "filled": true, "color": "#0000ff", "opacity": 1, "size": 225},
      "encoding": {
        "x": {"field": "t", "type": "quantitative"},
        "y": {"field": "price", "type": "quantitative"}
      }
    },
    {
      "data": {"name": "fills"},
      "transform": [{"filter": "datum.kind == 'cover'"}],
      "mark": {"type": "point", "shape": "triangle-left", "filled": true, "color": "#0000ff", "opacity": 1, "size": 45},
      "encoding": {
        "x": {"field": "t", "type": "quantitative"},
        "y": {"field": "price", "type": "quantitative"}
      }
    },
    {
      "data": {"name": "notes"},
      "mark": {"type": "text", "font": "Liberation Sans", "fontSize": 13.5, "lineHeight": 15, "align": "center", "baseline": "middle", "fill": "white", "stroke": "white", "strokeWidth": 12, "strokeJoin": "round"},
      "encoding": {
        "x": {"field": "t", "type": "quantitative"},
        "y": {"field": "price", "type": "quantitative"},
        "text": {"field": "note"}
      }
    },
    {
      "data": {"name": "arrows"},
      "mark": {"type": "rule", "color": "black", "strokeWidth": 1},
      "encoding": {
        "x": {"field": "t", "type": "quantitative"},
        "y": {"field": "price", "type": "quantitative"},
        "x2": {"field": "t2"},
        "y2": {"field": "price2"}
      }
    },
    {
      "data": {"name": "arrows"},
      "mark": {
        "type": "point",
        "shape": "M0,0L-0.5,1L0.5,1Z",
        "filled": true,
        "color": "black",
        "opacity": 1,
        "size": 900,
        "angle": {"expr": "atan2(scale('x', datum.t2) - scale('x', datum.t), scale('y', datum.price) - scale('y', datum.price2)) * 180 / PI"}
      },
      "encoding": {
        "x": {"field": "t2", "type": "quantitative"},
        "y": {"field": "price2", "type": "quantitative"}
      }
    },
    {
      "data": {"name": "notes"},
      "mark": {"type": "text", "font": "Liberation Sans", "fontSize": 13.5, "lineHeight": 15, "align": "center", "baseline": "middle", "color": "black"},
      "encoding": {
        "x": {"field": "t", "type": "quantitative"},
        "y": {"field": "price", "type": "quantitative"},
        "text": {"field": "note"}
      }
    },
    {
      "data": {"values": [{"label": "$EURUSD (Second - Bid), $EURUSD (Second - Ask)"}]},
      "mark": {"type": "text", "font": "Liberation Sans", "fontSize": 13.3, "align": "left", "baseline": "middle", "dx": 3, "color": "black"},
      "encoding": {
        "x": {"datum": -38.9, "type": "quantitative"},
        "y": {"datum": 1.323725, "type": "quantitative"},
        "text": {"field": "label"}
      }
    },
    {
      "data": {"values": [{"label": "© 2012 NinjaTrader, LLC"}]},
      "mark": {"type": "text", "font": "Liberation Sans", "fontSize": 13.3, "align": "left", "baseline": "middle", "dx": 3, "color": "black"},
      "encoding": {
        "x": {"datum": -38.9, "type": "quantitative"},
        "y": {"datum": 1.320972, "type": "quantitative"},
        "text": {"field": "label"}
      }
    },
    {
      "data": {"values": [{}]},
      "mark": {"type": "point", "shape": "M-0.91,-1L0.3,0L-0.91,1Z M0.55,-1H0.91V1H0.55Z", "filled": true, "color": "black", "opacity": 1, "size": 484},
      "encoding": {
        "x": {"datum": 1225.0, "type": "quantitative"},
        "y": {"datum": 1.323706, "type": "quantitative"}
      }
    },
    {
      "data": {"values": [{}]},
      "mark": {"type": "point", "shape": "square", "filled": false, "color": "black", "opacity": 1, "strokeWidth": 1, "size": 182, "clip": false},
      "encoding": {
        "x": {"datum": 1283.3, "type": "quantitative"},
        "y": {"datum": 1.323736, "type": "quantitative"}
      }
    },
    {
      "data": {"values": [{"label": "F"}]},
      "mark": {"type": "text", "font": "Liberation Sans", "fontSize": 12, "align": "center", "baseline": "middle", "color": "black", "clip": false},
      "encoding": {
        "x": {"datum": 1283.3, "type": "quantitative"},
        "y": {"datum": 1.323736, "type": "quantitative"},
        "text": {"field": "label"}
      }
    }
  ]
}
